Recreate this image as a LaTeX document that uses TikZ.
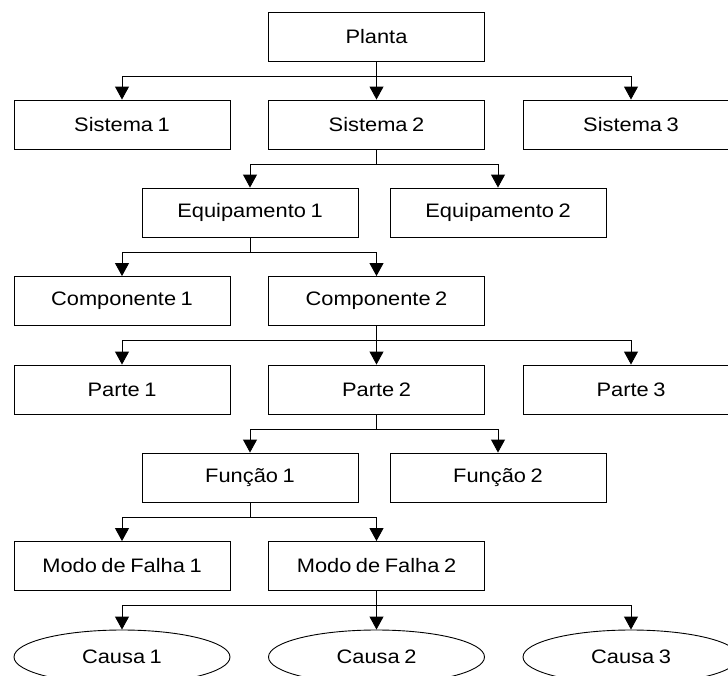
\documentclass[tikz,border=0pt]{standalone}
\usepackage{fontspec}
\setmainfont{Liberation Sans}[FakeStretch=1.12,WordSpace=0.75]
\usetikzlibrary{arrows.meta,shapes.geometric}
\begin{document}
\begin{tikzpicture}[x=1pt,y=-1pt,
  box/.style={draw=black,line width=0.9pt,minimum width=216pt,minimum height=49pt,
    inner sep=0pt,font=\fontsize{19.5}{23}\selectfont},
  causebox/.style={ellipse,draw=black,line width=0.9pt,minimum width=216pt,minimum height=54pt,
    inner sep=0pt,font=\fontsize{19.5}{23}\selectfont},
  arr/.style={draw=black,line width=0.9pt,-{Triangle[length=13pt,width=14pt]}}]
\useasboundingbox (0,0) rectangle (728,675);

% tree levels (x centres: 122 / 376.5 / 631 and 250 / 498)
\node[box] (planta) at (376.5,36.5) {Planta};

\node[box] (sis1) at (122,124.5) {Sistema 1};
\node[box] (sis2) at (376.5,124.5) {Sistema 2};
\node[box] (sis3) at (631,124.5) {Sistema 3};

\node[box] (eq1) at (250,212.5) {Equipamento 1};
\node[box] (eq2) at (498,212.5) {Equipamento 2};

\node[box] (comp1) at (122,301) {Componente 1};
\node[box] (comp2) at (376.5,301) {Componente 2};

\node[box] (par1) at (122,389.5) {Parte 1};
\node[box] (par2) at (376.5,389.5) {Parte 2};
\node[box] (par3) at (631,389.5) {Parte 3};

\node[box] (fun1) at (250,477.5) {Função 1};
\node[box] (fun2) at (498,477.5) {Função 2};

\node[box] (modo1) at (122,566) {Modo de Falha 1};
\node[box] (modo2) at (376.5,566) {Modo de Falha 2};

\node[causebox] (c1) at (122,657) {Causa 1};
\node[causebox] (c2) at (376.5,657) {Causa 2};
\node[causebox] (c3) at (631,657) {Causa 3};

% connectors: down from the parent, across, then down into each child
\foreach \p/\c in {planta/sis1,planta/sis2,planta/sis3,
                   sis2/eq1,sis2/eq2,
                   eq1/comp1,eq1/comp2,
                   comp2/par1,comp2/par2,comp2/par3,
                   par2/fun1,par2/fun2,
                   fun1/modo1,fun1/modo2,
                   modo2/c1,modo2/c2,modo2/c3}
  \draw[arr] (\p.south) -- ++(0,14.5) -| (\c.north);
\end{tikzpicture}
\end{document}
